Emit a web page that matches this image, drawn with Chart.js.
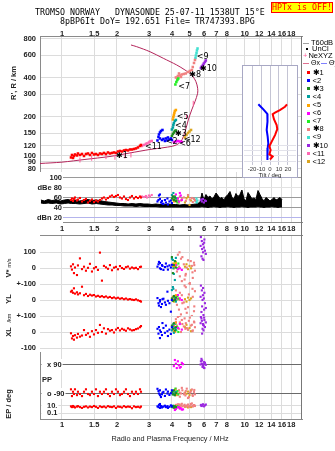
<!DOCTYPE html>
<html>
<head>
<meta charset="utf-8">
<script src="https://cdn.jsdelivr.net/npm/chart.js@4.4.1/dist/chart.umd.min.js"></script>
<style>
  html, body { margin: 0; padding: 0; background: #fff; }
  #page { position: relative; width: 335px; height: 451px; overflow: hidden; font-family: "Liberation Sans", Arial, sans-serif; color: #222; }
  #page canvas { position: absolute; left: 0; top: 0; }
  .txt { position: absolute; white-space: pre; line-height: 10px; }
  .mono { font-family: "DejaVu Sans Mono", monospace; font-size: 8.3px; color: #000; }
  .rot { position: absolute; white-space: nowrap; transform: translate(-50%, -50%) rotate(-90deg); font-weight: bold; font-size: 7.5px; color: #222; }
  .rot small { font-size: 5.5px; font-weight: normal; }
  #hptx { position: absolute; left: 271px; top: 2px; width: 62px; height: 11px; box-sizing: border-box; border: 1px solid #f00; background: #ff0; color: #f00; font-family: "DejaVu Sans Mono", monospace; font-size: 8.3px; line-height: 9px; text-align: center; }
  #insetBox { position: absolute; left: 242px; top: 65px; width: 56px; height: 113px; box-sizing: border-box; border: 1px solid #a8a8c4; background: #fff; }
  #rightEdge { position: absolute; left: 301px; top: 36px; width: 1px; height: 383px; background: #777; }
  .leg { position: absolute; left: 303px; transform: translateY(-50%); font-size: 7.5px; line-height: 8px; white-space: nowrap; color: #000; }
  .leg i { display: inline-block; vertical-align: middle; font-style: normal; }
  .ln { width: 6px; height: 1px; margin-right: 2px; }
  .dot { width: 2px; height: 2px; background: #000; margin: 0 4px 0 3px; }
  .sq { width: 3px; height: 3px; margin: 0 3px 0 3.5px; }
</style>
</head>
<body>
<div id="page">
  <canvas id="cMain" width="335" height="451"></canvas>
  <canvas id="cAmp" width="335" height="451"></canvas>
  <canvas id="cVs" width="335" height="451"></canvas>
  <canvas id="cYl" width="335" height="451"></canvas>
  <canvas id="cXl" width="335" height="451"></canvas>
  <canvas id="cPp" width="335" height="451"></canvas>
  <canvas id="cEp" width="335" height="451"></canvas>
  <div id="insetBox"></div>
  <canvas id="cTilt" width="335" height="451"></canvas>
  <div id="rightEdge"></div>

  <div class="txt mono" style="left:35px;top:7px">TROMSO NORWAY   DYNASONDE 25-07-11 1538UT 15°E</div>
  <div class="txt mono" style="left:60px;top:15.5px">8pBP6It DoY= 192.651 File= TR747393.BPG</div>
  <div id="hptx">HPTx is OFF!</div>

  <div class="rot" style="left:13px;top:83px">R', R / km</div>
  <div class="rot" style="left:8px;top:268px">V* <small>m/s</small></div>
  <div class="rot" style="left:8px;top:299px">YL</div>
  <div class="rot" style="left:8px;top:318px"><small>/km</small></div>
  <div class="rot" style="left:8px;top:332px">XL</div>
  <div class="rot" style="left:8px;top:404px">EP / deg</div>
  <div class="txt" style="left:42px;top:375px;font-size:7.5px;font-weight:bold">PP</div>
  <div class="txt" style="left:170px;top:434px;transform:translateX(-50%);font-size:7.3px">Radio and Plasma Frequency / MHz</div>
  <div class="txt" style="left:270px;top:170.5px;transform:translateX(-50%);font-size:6px;line-height:8px">Tilt / deg</div>

  <div class="leg" style="top:43px"><i class="ln" style="background:#a0a0a0"></i>T60dB</div>
  <div class="leg" style="top:49px"><i class="dot"></i>UnCl</div>
  <div class="leg" style="top:55.5px"><i style="color:#ff5c9a;margin-right:1px">+</i>NeXYZ</div>
  <div class="leg" style="top:63px;font-size:7px"><i class="ln" style="background:#e07090"></i>Θx<i class="ln" style="background:#8080ff;margin-left:1px"></i>Θy</div>
  <div id="legend"></div>
</div>

<script>
const W = 335, H = 451;
const FMIN = 0.758, FMAX = 20.6;

const freqTicksTop = [1, 1.5, 2, 3, 4, 5, 6, 7, 8, 10, 12, 14, 16, 18];
const freqTicksMid = [1, 1.5, 2, 3, 4, 5, 6, 7, 8, 9, 10, 12, 14, 16, 18];
const heightTicks = [80, 90, 100, 120, 150, 200, 300, 400, 600, 800];
const ampTicks = [100, 80, 60, 40, 20];
const ampTickText = ['100', 'dBe 80', '60', '40', 'dBn 20'];
const tiltTicks = [-20, -10, 0, 10, 20];

const traceNames = ['✱1', '<2', '✱3', '<4', '<5', '<6', '<7', '✱8', '<9', '✱10', '<11', '<12'];
const traceColors = ['#ff0000', '#0000ff', '#1f8a1f', '#00a0a0', '#ffa500', '#ff00ff', '#22ee22',
                     '#f08080', '#40e0d0', '#9a28e0', '#ff69b4', '#daa520'];

// echo rows: [freq MHz, R' km, amp dB, V* m/s, YL km, XL km, PP deg, EP deg]
const echo1 = [
  [1.120, 97.4, 55, 12, 52, -8, -64, 8], [1.134, 101.8, 58, -8, 58, -40, -106, 5],
  [1.149, 96.5, 53, 25, 45, -25, -79, 10], [1.163, 100.0, 57, -30, 73, -48, -93, 6],
  [1.178, 102.7, 60, 5, 40, -20, -64, 4], [1.208, 100.9, 54, -42, 48, -35, -100, 7],
  [1.223, 104.5, 56, 18, 35, -12, -79, 9], [1.254, 101.8, 59, 62, 42, -29, -93, 5],
  [1.287, 103.6, 52, -5, 83, -22, -106, 3], [1.320, 100.0, 55, 10, 30, 12, -79, 6],
  [1.353, 103.6, 57, -15, 38, -18, -64, 8], [1.388, 104.5, 50, 3, 25, -8, -93, 4],
  [1.423, 101.8, 53, 28, 33, -30, -100, 7], [1.459, 105.5, 56, -20, 28, 5, -79, 5],
  [1.497, 102.7, 51, 0, 31, -15, -93, 10], [1.535, 103.6, 54, 8, 22, 12, -64, 6],
  [1.574, 101.8, 52, -10, 26, -5, -106, 3], [1.614, 104.5, 55, 98, 20, 44, -79, 8],
  [1.655, 103.6, 58, -77, 24, 0, -93, 5], [1.697, 105.5, 60, 15, 18, 23, -79, 7],
  [1.741, 103.6, 56, 6, 22, -10, -64, 4], [1.786, 106.4, 59, -3, 15, 18, -93, 9],
  [1.831, 104.5, 62, 20, 19, 8, -106, 6], [1.878, 105.5, 64, -12, 12, 12, -79, 5],
  [1.926, 106.4, 61, 4, 16, -3, -93, 8], [1.975, 105.5, 63, 9, 10, 15, -64, 3],
  [2.025, 108.3, 65, -6, 14, 25, -79, 7], [2.077, 109.3, 60, 14, 8, 10, -100, 6],
  [2.130, 108.3, 58, 2, 11, 20, -93, 4], [2.185, 110.3, 62, -4, 5, 14, -79, 9],
  [2.240, 111.2, 57, 7, 9, 8, -64, 5], [2.298, 110.3, 55, 11, 3, 23, -93, 7],
  [2.356, 112.2, 60, -2, 6, 16, -106, 6], [2.416, 112.2, 63, 5, 2, 10, -79, 2.5],
  [2.478, 113.2, 58, 0, 0, 12, -93, 8], [2.541, 114.3, 61, 3, 4, 18, -79, 5],
  [2.606, 116.3, 59, -5, -2, 22, -93, 6], [2.673, 119.5, 62, 8, -6, 30, -64, 4],
  [2.707, 121.6, 60, 10, -10, 37, -79, 7]
];
const echo2 = [
  [3.332, 131.7, 52, 10, 12, 20, -61, 8], [3.374, 140.2, 55, 25, -20, -10, -75, 5],
  [3.395, 146.5, 64, 40, -35, 31, -90, 20], [3.438, 151.8, 66, 33, 0, -38, -100, 3],
  [3.482, 155.9, 50, -5, -44, 0, -112, 10], [3.548, 158.7, 48, 15, 5, 56, -85, 6],
  [3.438, 136.5, 57, 0, -10, 10, -70, 35], [3.526, 132.9, 53, 20, -25, -19, -95, 4],
  [3.592, 135.3, 47, -10, 8, 25, -80, 7], [3.660, 130.5, 55, 8, -15, -5, -105, 12],
  [3.706, 136.5, 50, 30, -30, 40, -65, 5], [3.777, 131.7, 58, 12, 52, 5, -90, 9],
  [3.801, 138.9, 46, -8, -5, -25, -78, 3], [3.873, 134.1, 52, 18, -20, 15, -99, 6],
  [3.946, 136.5, 54, 5, -73, -12, -88, 15], [3.996, 132.9, 49, 22, 0, 30, -70, 8]
];
const echo3 = [
  [3.996, 142.7, 58, 70, 10, 40, -80, 6], [4.046, 147.8, 62, -30, -5, 20, -95, 10],
  [4.097, 151.8, 55, 20, 25, 55, -70, 4], [4.149, 155.9, 60, 45, 0, 10, -100, 8],
  [4.202, 157.3, 53, 5, 15, 30, -88, 5]
];
const echo4 = [
  [3.996, 160.1, 65, 60, 62, 10, -85, 5], [4.046, 165.9, 60, 52, 81, 35, -95, 8],
  [4.071, 173.4, 69, 0, 70, 50, -75, 12], [4.097, 179.7, 55, -35, 20, -5, -90, 4],
  [4.149, 186.3, 62, -73, 5, 25, -100, 7], [4.202, 189.6, 58, 65, -10, 15, -80, 6]
];
const echo5 = [
  [4.046, 191.3, 56, 15, 20, 20, -88, 7], [4.071, 200.0, 60, 30, 5, 45, -75, 5],
  [4.097, 207.3, 52, 0, -10, 5, -95, 9], [4.123, 214.7, 58, 25, 15, 30, -82, 4],
  [4.149, 222.4, 63, 10, 0, 0, -70, 6], [4.202, 226.4, 54, 33, 30, 60, -100, 10]
];
const echo6 = [
  [4.097, 128.2, 62, 10, 20, 40, 80, 3], [4.202, 129.4, 66, 21, 5, 60, 95, 1.5],
  [4.309, 130.5, 58, -5, 31, 25, 110, 5], [4.418, 129.4, 69, 0, 10, 50, 70, 2],
  [4.530, 128.2, 55, -10, 0, 15, 100, 1], [4.150, null, 60, 15, null, null, 118, 0.8],
  [4.360, null, 52, null, null, null, 85, 4], [4.470, null, 64, null, null, null, 75, 2.5],
  [4.600, null, null, null, null, null, 92, 1.2], [4.250, null, null, null, null, null, 68, null]
];
const echo7 = [
  [4.176, 356.2, 55, 40, 15, 50, -60, 6], [4.228, 372.4, 59, 20, 0, 10, -85, 3],
  [4.282, 386.0, 50, 0, 25, 30, -75, 9], [4.335, 396.3, 53, 30, 8, 0, -95, 5]
];
const echo8 = [
  [4.202, 403.5, 52, 40, 60, 80, -60, 20], [4.260, 399.9, 55, -20, -30, 40, -80, 8],
  [4.309, 414.4, 58, 85, 10, 94, -100, 30], [4.370, 433.2, 50, 10, -60, 20, -70, 10],
  [4.418, 418.0, 62, -50, 45, 60, -110, 5], [4.480, 407.0, 54, 60, -90, 0, -90, 15],
  [4.530, 425.5, 57, -80, 30, 75, -55, 40], [4.645, 429.3, 60, 25, -15, 35, -95, 12],
  [4.762, 433.2, 53, -35, 80, 55, -75, 6], [4.896, 444.8, 65, 50, -45, 15, -118, 25],
  [5.010, 452.8, 56, -92, 100, 90, -85, 9], [5.140, 461.0, 59, 15, -100, 45, -65, 50],
  [5.200, 486.0, 51, -60, 20, 10, -105, 7], [5.280, 522.0, 57, 35, -70, 65, -80, 18],
  [5.345, 550.5, 54, -15, 55, 30, -95, 10], [4.560, null, null, 70, -20, 50, -70, 8],
  [4.690, null, null, -70, 90, 85, -88, 22], [4.820, null, null, 5, -80, 25, -60, 14],
  [4.950, null, null, -100, 35, 70, -112, 6], [5.070, null, null, 45, -106, 40, -78, 35],
  [5.180, null, null, -25, 70, 5, -98, 11], [5.300, null, null, 20, -40, 60, -68, 16],
  [4.400, null, null, 100, 0, 100, -84, 28], [4.740, null, null, -45, -55, 20, -102, 9]
];
const echo9 = [
  [5.38, 570.4, 55, null, null, null, null, null], [5.41, 596.3, 52, null, null, null, null, null],
  [5.45, 623.4, 58, null, null, null, null, null], [5.48, 651.7, 50, null, null, null, null, null],
  [5.52, 675.3, 54, null, null, null, null, null]
];
const echo10 = [
  [5.76, 477.5, 55, 195, 90, 94, 110, 20], [5.83, 490.5, 52, 170, 60, 70, 95, 12],
  [5.91, 503.8, 57, 150, 30, 50, 80, 30], [5.98, 517.4, 50, 130, 10, 40, 70, 8],
  [6.06, 531.4, 54, 110, -20, 31, 100, 15], [6.13, 545.7, 53, 90, -50, 60, 88, 25],
  [5.80, null, 56, 75, -75, 85, 125, 10], [5.88, null, null, 60, 0, 20, 75, null],
  [5.95, null, null, 52, -94, 10, 92, null], [6.02, null, null, 180, 45, 75, 68, null],
  [5.85, null, null, 120, -40, -10, 115, null], [5.92, null, null, 100, 75, 45, 82, null],
  [6.00, null, null, 160, -60, 90, 105, null], [5.74, null, null, 140, 20, 55, 90, null]
];
const echo11 = [
  [2.74, 119.5, 62, null, null, null, null, null], [2.81, 121.6, 61, null, null, null, null, null],
  [2.88, 123.8, 63, null, null, null, null, null], [2.92, 124.9, 60, null, null, null, null, null],
  [2.99, 127.0, 64, null, null, null, null, null], [3.03, 129.4, 62, null, null, null, null, null],
  [3.10, 130.5, 65, null, null, null, null, null]
];
const echo12 = [
  [4.712, 138.9, 50, 10, 5, 30, -85, 6], [4.803, 145.3, 58, 25, -10, 45, -92, 9],
  [4.896, 150.5, 61, -5, 15, 15, -78, 4], [4.991, 154.5, 45, 15, 0, 25, -100, 7],
  [5.088, 158.7, 54, 0, 10, 5, -70, 5]
];
const echoes = [echo1, echo2, echo3, echo4, echo5, echo6, echo7, echo8, echo9, echo10, echo11, echo12];

// model profile (plasma frequency vs real height) and NeXYZ samples on it
const neFreq = [0.758, 1.0, 1.336, 1.831, 2.356, 3.03, 3.664, 4.155, 4.481, 4.712, 4.913, 5.128,
                5.345, 5.529, 5.529, 5.412, 5.128, 4.712, 4.245, 3.585, 3.03, 2.564, 2.386];
const neHeight = [87.5, 89.6, 94.0, 99.1, 105.5, 112.2, 116.3, 120.5, 129.4, 153.2, 189.6, 226.4,
                  262.4, 304.7, 333, 374.4, 421.7, 460.9, 503.8, 567.4, 637.8, 697.3, 718.7];
const nexyzFreq = [1.254, 1.454, 1.741, 1.95, 2.21, 2.385, 4.81, 5.23];
const nexyzHeight = [93.1, 96.0, 98.8, 97.7, 100.0, 101.8, 201, 255];

// trace tags: [text, freq, height]
const traceTags = [
  ['✱1', 1.975, 100], ['<11', 2.848, 117.3], ['<2', 3.706, 128.9], ['✱3', 4.155, 147],
  ['<4', 4.155, 171.5], ['<5', 4.245, 201], ['<6', 4.38, 123.1], ['<7', 4.33, 342.7],
  ['✱8', 4.98, 421.7], ['<9', 5.47, 583.5], ['✱10', 5.69, 469.5], ['<12', 4.645, 132.8]
];

// amplitude of the noise floor
const noiseFreq = [0.767, 0.80, 0.84, 0.88, 0.93, 0.98, 1.03, 1.08, 1.13, 1.19, 1.25, 1.32, 1.39, 1.46,
  1.54, 1.61, 1.70, 1.79, 1.88, 1.98, 2.08, 2.19, 2.30, 2.42, 2.54, 2.67, 2.81, 2.96, 3.11, 3.27, 3.44,
  3.62, 3.81, 4.00, 4.20, 4.42, 4.65, 4.90, 5.14, 5.41,
  5.69, 5.84, 5.99, 6.14, 6.30, 6.46, 6.62, 6.79, 6.97, 7.14, 7.33, 7.51, 7.70, 7.90, 8.10, 8.31, 8.52,
  8.74, 8.96, 9.19, 9.42, 9.66, 9.91, 10.17, 10.43, 10.69, 10.96, 11.24, 11.53, 11.83, 12.13, 12.44,
  12.76, 13.08, 13.41, 13.76, 14.11, 14.47, 14.84, 15.22, 15.61, 16.00];
const noiseTop = [55, 53, 56, 54, 55, 53, 55, 56, 54, 55, 53, 55, 56, 54, 55, 54, 52, 51, 50, 49, 48,
  48, 47, 48, 47, 48, 47, 47, 46, 47, 46, 46, 47, 46, 46, 45, 46, 45, 46, 47,
  50, 69, 55, 66, 60, 63, 57, 61, 69, 64, 58, 60, 55, 62, 66, 72, 60, 57, 68, 62, 66, 75, 58, 53, 70,
  64, 57, 59, 56, 74, 66, 58, 53, 60, 57, 53, 56, 60, 55, 57, 60, 56];
const noiseBase = [49, 48, 49, 48, 49, 47, 48, 49, 48, 48, 47, 48, 49, 47, 48, 47, 46, 45, 45, 44, 44,
  43, 43, 43, 42, 43, 42, 42, 42, 42, 41, 41, 41, 41, 41, 41, 41, 41, 41, 41,
  41, 42, 41, 41, 40, 41, 41, 42, 41, 41, 40, 41, 41, 41, 42, 41, 41, 40, 41, 41, 41, 42, 41, 41, 40,
  41, 41, 41, 41, 42, 41, 41, 40, 41, 41, 41, 42, 41, 41, 40, 41, 41];

// tilt profiles
const tiltXHeight = [250.6, 240, 226, 216, 210, 192, 173, 161, 145, 129, 119, 111, 103, 99, 94];
const tiltXDeg = [19, 16.7, 11, 5.6, 3, 4.4, 7.4, 8.1, 5.6, 1.9, -0.7, 0.7, -0.7, 3, 0];
const tiltYHeight = [250.6, 240, 229, 220, 211, 204, 184, 159, 141, 125, 115, 108, 99, 93];
const tiltYDeg = [-13, -10.3, -7.4, -5.2, -3, -2.6, -3, -3.7, -2.6, -1.9, -2.6, -3, -2.6, -3];

const FAMILY = '"Liberation Sans", Arial, sans-serif';
const tickFont = { family: FAMILY, size: 7.5, weight: 'bold' };

function freqAxis(ticks, o) {
  return {
    type: 'logarithmic', min: FMIN, max: FMAX, position: o.pos,
    afterBuildTicks: s => { s.ticks = ticks.map(v => ({ value: v })); },
    afterFit: s => { s.height = o.h; },
    grid: { color: o.grid || '#dcdcdc', drawTicks: false },
    border: { display: !!o.border, color: '#8a8a8a' },
    ticks: { display: !!o.labels, autoSkip: false, maxRotation: 0, minRotation: 0, padding: o.pad || 0,
             font: tickFont, color: '#222', callback: v => String(v) }
  };
}

function valueAxis(o) {
  return {
    type: o.type || 'linear', min: o.min, max: o.max, position: 'left',
    afterBuildTicks: s => { s.ticks = o.ticks.map(v => ({ value: v })); },
    afterFit: s => { s.width = o.w == null ? 40 : o.w; },
    grid: { color: o.grid || '#dcdcdc', drawTicks: false },
    border: { display: !!o.border, color: '#8a8a8a' },
    ticks: {
      display: o.labels !== false, autoSkip: false, padding: o.pad == null ? 4 : o.pad,
      mirror: !!o.mirror, crossAlign: o.align || 'near', font: tickFont, color: '#222',
      callback: (v, i) => (o.text ? o.text[i] : String(v)),
      showLabelBackdrop: !!o.mirror, backdropColor: '#fff', backdropPadding: o.bdPad || 1
    }
  };
}

function panel(id, box, x, y, xh, yw, xTop, datasets, plugins) {
  return new Chart(document.getElementById(id), {
    type: 'scatter',
    data: { datasets },
    options: {
      responsive: false, animation: false, devicePixelRatio: 1, events: [],
      layout: { padding: {
        left: box.l - yw, right: W - box.r,
        top: xTop ? box.t - xh : box.t, bottom: xTop ? H - box.b : H - box.b - xh } },
      plugins: { legend: { display: false }, tooltip: { enabled: false } },
      scales: { x, y }
    },
    plugins: plugins || []
  });
}

function echoSets(col, r) {
  return echoes.map((rows, i) => ({
    data: rows.filter(row => row[col] != null).map(row => ({ x: row[0], y: row[col] })),
    backgroundColor: traceColors[i], borderColor: traceColors[i], pointBackgroundColor: traceColors[i],
    pointStyle: 'rect', pointRadius: r, pointBorderWidth: 0, pointHoverRadius: 0
  }));
}

const pairs = (xs, ys) => xs.map((v, i) => ({ x: v, y: ys[i] }));

const tagPlugin = {
  id: 'traceTags',
  afterDatasetsDraw(chart) {
    const { ctx, scales: { x, y } } = chart;
    ctx.save();
    ctx.font = '8px "DejaVu Sans", sans-serif';
    ctx.fillStyle = '#000';
    ctx.textBaseline = 'middle';
    traceTags.forEach(([t, f, h]) => ctx.fillText(t, x.getPixelForValue(f), y.getPixelForValue(h)));
    ctx.restore();
  }
};

// R' vs frequency
panel('cMain', { l: 40, t: 36, r: 302, b: 172 },
  freqAxis(freqTicksTop, { pos: 'top', h: 10, labels: true, pad: -2, border: true }),
  valueAxis({ type: 'logarithmic', min: 75.2, max: 843, ticks: heightTicks, border: true }),
  10, 40, true,
  [
    ...echoSets(1, 1.8),
    { data: pairs(nexyzFreq, nexyzHeight), pointStyle: 'line', rotation: 90, pointRadius: 2.5,
      pointBorderWidth: 1, pointBorderColor: '#ff5c9a', borderColor: '#ff5c9a', backgroundColor: '#ff5c9a' },
    { type: 'line', data: pairs(neFreq, neHeight), borderColor: '#b3245a', borderWidth: 1,
      pointRadius: 0, tension: 0.3, fill: false }
  ],
  [tagPlugin]);

// amplitude
const mctx = document.createElement('canvas').getContext('2d');
mctx.font = `bold 7.5px ${FAMILY}`;
const ampWidest = Math.max(...ampTickText.map(t => mctx.measureText(t).width));
const ampGrid = { 100: '#9a9a9a', 80: '#e2e2e2', 60: '#9a9a9a', 40: '#9a9a9a', 20: '#b4b4ec' };
panel('cAmp', { l: 40, t: 172, r: 302, b: 222 },
  freqAxis(freqTicksMid, { pos: 'bottom', h: 10, labels: true, pad: 2.5, border: true }),
  valueAxis({ min: 11, max: 111, ticks: ampTicks, text: ampTickText, mirror: true, align: 'far',
              pad: 62 - 40 - ampWidest, bdPad: { left: 24, right: 1, top: 1, bottom: 1 },
              grid: c => ampGrid[c.tick && c.tick.value] || '#dcdcdc' }),
  10, 40, false,
  [
    ...echoSets(2, 1.5),
    { type: 'line', data: pairs(noiseFreq, noiseTop), borderColor: '#000', backgroundColor: '#000',
      borderWidth: 1, pointRadius: 0, fill: '+1', order: 5 },
    { type: 'line', data: pairs(noiseFreq, noiseBase), borderColor: '#000', borderWidth: 1,
      pointRadius: 0, fill: false, order: 5 }
  ]);

// V*, YL, XL, PP, EP bands
const innerPad = { left: 5.5, right: 1, top: 1, bottom: 1 };
panel('cVs', { l: 40, t: 235, r: 302, b: 284 },
  freqAxis(freqTicksTop, { pos: 'top', h: 0, border: true }),
  valueAxis({ min: -98, max: 208, ticks: [100, 0], text: ['100', '0'] }),
  0, 40, true, echoSets(3, 1.5));
panel('cYl', { l: 40, t: 284, r: 302, b: 316 },
  freqAxis(freqTicksTop, { pos: 'top', h: 0 }),
  valueAxis({ min: -100, max: 100, ticks: [100, 0], text: ['+-100', '0'] }),
  0, 40, true, echoSets(4, 1.5));
panel('cXl', { l: 40, t: 316, r: 302, b: 352 },
  freqAxis(freqTicksTop, { pos: 'top', h: 0 }),
  valueAxis({ min: -125, max: 100, ticks: [100, 0, -100], text: ['+-100', '0', '-100'] }),
  0, 40, true, echoSets(5, 1.5));
panel('cPp', { l: 40, t: 352, r: 302, b: 400 },
  freqAxis(freqTicksTop, { pos: 'top', h: 0 }),
  valueAxis({ min: -130.3, max: 167.6, ticks: [90, -90], text: ['x 90', 'o -90'], mirror: true, pad: 7,
              bdPad: innerPad, grid: '#6a6a6a', border: true }),
  0, 40, true, echoSets(6, 1.5));
panel('cEp', { l: 40, t: 400, r: 302, b: 419 },
  freqAxis(freqTicksTop, { pos: 'bottom', h: 10, labels: true, pad: 1.5, border: true }),
  valueAxis({ type: 'logarithmic', min: 0.00274, max: 440, ticks: [10, 0.1], text: ['10.', '0.1'],
              mirror: true, pad: 7, bdPad: innerPad, border: true }),
  10, 40, false, echoSets(7, 1.5));

// tilt inset
panel('cTilt', { l: 244, t: 66, r: 296, b: 165 },
  {
    type: 'linear', min: -29, max: 29, position: 'bottom',
    afterBuildTicks: s => { s.ticks = tiltTicks.map(v => ({ value: v })); },
    afterFit: s => { s.height = 8; },
    grid: { color: '#c4c4d4', drawTicks: false },
    border: { display: false },
    ticks: { autoSkip: false, maxRotation: 0, padding: 0.5, font: { family: FAMILY, size: 6 }, color: '#333',
             callback: v => String(v) }
  },
  valueAxis({ type: 'logarithmic', min: 85.2, max: 494.8, ticks: [90, 100, 110, 120], w: 0,
              labels: false, grid: '#e2e2ea' }),
  8, 0, false,
  [
    { type: 'line', data: pairs(tiltXDeg, tiltXHeight), borderColor: '#ff0000', borderWidth: 2, pointRadius: 0 },
    { type: 'line', data: pairs(tiltYDeg, tiltYHeight), borderColor: '#0000ff', borderWidth: 2, pointRadius: 0 }
  ]);

// trace legend
const legend = document.getElementById('legend');
traceNames.forEach((name, i) => {
  const row = document.createElement('div');
  row.className = 'leg';
  row.style.top = (72.7 + 8.09 * i) + 'px';
  const sq = document.createElement('i');
  sq.className = 'sq';
  sq.style.background = traceColors[i];
  row.appendChild(sq);
  row.appendChild(document.createTextNode(name));
  legend.appendChild(row);
});
</script>
</body>
</html>
